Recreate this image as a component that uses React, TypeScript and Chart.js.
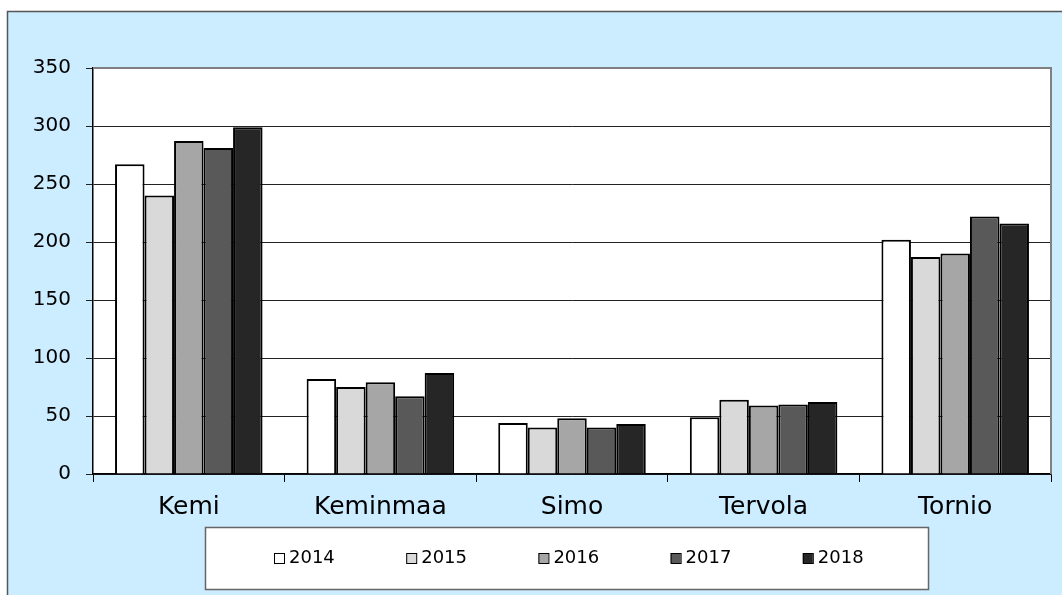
import React, { useEffect, useRef } from "react";
import { Chart, registerables } from "chart.js";

Chart.register(...registerables);

const categories = ["Kemi", "Keminmaa", "Simo", "Tervola", "Tornio"];
const seriesLabels = ["2014", "2015", "2016", "2017", "2018"];
const values2014 = [267, 82, 44, 49, 202];
const values2015 = [240, 75, 40, 64, 187];
const values2016 = [287, 79, 48, 59, 190];
const values2017 = [281, 67, 40, 60, 222];
const values2018 = [299, 87, 43, 62, 216];
const seriesColors = ["#FFFFFF", "#D9D9D9", "#A6A6A6", "#595959", "#262626"];
const yTicks = [0, 50, 100, 150, 200, 250, 300, 350];

const W = 1062;
const H = 595;
const FONT = "'DejaVu Sans', 'Liberation Sans', Arial, sans-serif";

const decorPlugin = {
  id: "decor",
  beforeDraw(chart: any) {
    const { ctx, chartArea: a } = chart;
    ctx.save();
    ctx.fillStyle = "#FFFFFF";
    ctx.fillRect(0, 0, W, H);
    ctx.fillStyle = "#CCECFF";
    ctx.fillRect(7, 11, W - 7, H - 11);
    ctx.strokeStyle = "#555555";
    ctx.lineWidth = 1.5;
    ctx.beginPath();
    ctx.moveTo(7.5, H);
    ctx.lineTo(7.5, 11.5);
    ctx.lineTo(W, 11.5);
    ctx.stroke();
    ctx.fillStyle = "#FFFFFF";
    ctx.fillRect(a.left, a.top, a.right - a.left, a.bottom - a.top);
    ctx.restore();
  },
  afterDraw(chart: any) {
    const { ctx, chartArea: a } = chart;
    ctx.save();
    // plot border (top/right)
    ctx.strokeStyle = "#808080";
    ctx.lineWidth = 2;
    ctx.beginPath();
    ctx.moveTo(a.left, a.top);
    ctx.lineTo(a.right, a.top);
    ctx.lineTo(a.right, a.bottom);
    ctx.stroke();
    // legend box
    ctx.fillStyle = "#FFFFFF";
    ctx.fillRect(205, 527, 723, 62);
    ctx.strokeStyle = "#666666";
    ctx.lineWidth = 1.5;
    ctx.strokeRect(205.5, 527.5, 723, 62);
    ctx.font = `18px ${FONT}`;
    ctx.textBaseline = "middle";
    ctx.textAlign = "left";
    chart.data.datasets.forEach((ds: any, i: number) => {
      const x = 274 + i * 132.2;
      ctx.fillStyle = ds.backgroundColor;
      ctx.fillRect(x, 553, 10, 10);
      ctx.strokeStyle = "#000000";
      ctx.lineWidth = 1;
      ctx.strokeRect(x + 0.5, 553.5, 10, 10);
      ctx.fillStyle = "#000000";
      ctx.fillText(ds.label, x + 15, 558.5);
    });
    ctx.restore();
  },
};

export default function App() {
  const ref = useRef<HTMLCanvasElement | null>(null);

  useEffect(() => {
    if (!ref.current) return;
    const allValues = [values2014, values2015, values2016, values2017, values2018];
    const chart = new Chart(ref.current, {
      type: "bar",
      data: {
        labels: categories,
        datasets: seriesLabels.map((label, i) => ({
          label,
          data: allValues[i],
          backgroundColor: seriesColors[i],
          borderColor: "#000000",
          borderWidth: 2,
          categoryPercentage: 0.77,
          barPercentage: 1,
        })),
      },
      options: {
        responsive: false,
        animation: false,
        layout: { padding: { left: 0, right: 11, top: 68, bottom: 0 } },
        plugins: {
          legend: { display: false },
          tooltip: { enabled: false },
        },
        scales: {
          x: {
            afterFit: (s: any) => {
              s.height = 121;
            },
            grid: {
              display: true,
              drawOnChartArea: false,
              drawTicks: true,
              tickLength: 8,
              color: "#000000",
              offset: true,
            },
            border: { display: true, color: "#000000", width: 1.5 },
            ticks: {
              color: "#000000",
              font: { family: FONT, size: 25 },
              padding: 10,
              maxRotation: 0,
            },
          },
          y: {
            min: 0,
            max: 350,
            afterFit: (s: any) => {
              s.width = 93;
            },
            afterBuildTicks: (s: any) => {
              s.ticks = yTicks.map((v) => ({ value: v }));
            },
            grid: {
              color: "#222222",
              lineWidth: 1,
              drawTicks: true,
              tickLength: 7,
            },
            border: { display: true, color: "#000000", width: 1.5 },
            ticks: {
              color: "#000000",
              font: { family: FONT, size: 20 },
              padding: 15,
            },
          },
        },
      },
      plugins: [decorPlugin],
    });
    return () => chart.destroy();
  }, []);

  return (
    <div style={{ position: "fixed", left: 0, top: 0, width: W, height: H }}>
      <canvas ref={ref} width={W} height={H} style={{ display: "block", width: W, height: H }} />
    </div>
  );
}
